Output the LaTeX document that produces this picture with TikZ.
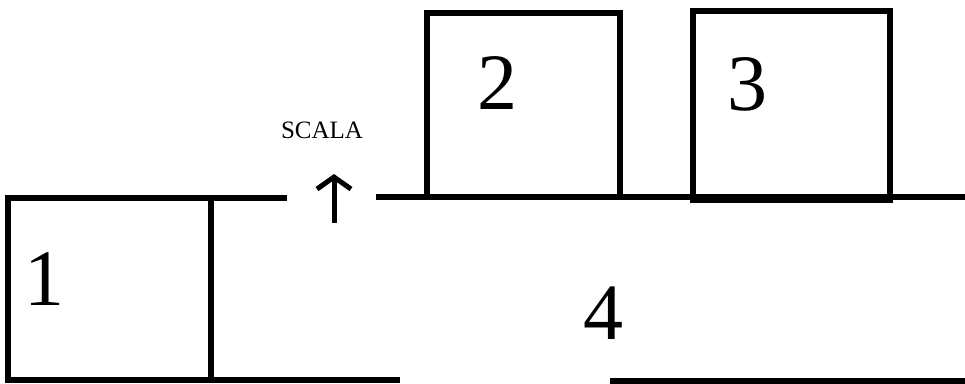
\documentclass[tikz,border=0pt]{standalone}
\usepackage{fontspec}
\setmainfont{Liberation Serif}
\usetikzlibrary{arrows.meta}
\tikzset{
  wall/.style={line width=5.5pt, line cap=rect},
  roomno/.style={inner sep=0pt, font=\fontsize{80}{80}\selectfont},
}
\begin{document}
\begin{tikzpicture}[x=1pt, y=-1pt]
    \useasboundingbox (0,0) rectangle (965,383);
    % room 1 and the corridor walls
    \draw[wall] (8,380) -- (8,198) -- (284,198);
    \draw[wall] (211,198) -- (211,380);
    \draw[wall] (8,380) -- (397,380);
    \draw[wall] (613,381) -- (965,381);
    \draw[wall] (379,197) -- (965,197);
    % rooms 2 and 3
    \draw[wall] (427,197) rectangle (620,13);
    \draw[wall] (693,200) rectangle (890,11);
    % stairs
    \coordinate (stairfoot) at (334,223);
    \coordinate (stairtop) at (334,174);
    \draw[line width=5pt, -{Straight Barb[length=12pt,width=34pt,line width=5pt]}] (stairfoot) -- (stairtop);
    \node[font=\fontsize{25}{25}\selectfont] (scala) at (322,130) {SCALA};
    % room numbers
    \node[roomno] (r1) at (44,279) {1};
    \node[roomno] (r2) at (497,83) {2};
    \node[roomno] (r3) at (747,84) {3};
    \node[roomno] (r4) at (603,313) {4};
\end{tikzpicture}
\end{document}
